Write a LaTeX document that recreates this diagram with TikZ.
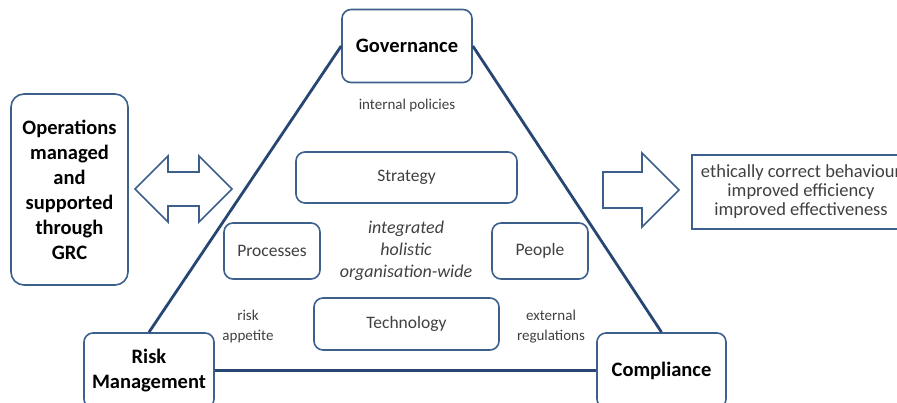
\documentclass[tikz,border=0pt]{standalone}
\usepackage{fontspec}
\setmainfont{Carlito}
\usetikzlibrary{positioning}

\definecolor{grcblue}{RGB}{60,95,140}
\definecolor{grcdark}{RGB}{40,70,115}
\definecolor{grctext}{RGB}{64,64,64}

\tikzset{
	pillar/.style={draw=grcblue, line width=1.6pt, rounded corners=9pt, fill=white, inner sep=0pt, align=center},
	corner/.style={pillar, font=\bfseries\fontsize{20.5}{25}\selectfont, text=black},
	element/.style={pillar, font=\fontsize{17.5}{21}\selectfont, text=grctext},
	note/.style={font=\fontsize{15}{20}\selectfont, text=grctext, align=center},
	blockarrow/.style={draw=grcblue, line width=1.6pt, fill=white, line join=miter},
	edge/.style={draw=grcdark, line width=2.8pt}
}

\begin{document}
\begin{tikzpicture}[x=1pt,y=-1pt]
\useasboundingbox (0,0) rectangle (897,403);
\clip (0,0) rectangle (897,403);

% corners of the triangle
\node[corner, minimum width=130pt, minimum height=73pt] (gov) at (407,46) {Governance};
\node[corner, minimum width=130pt, minimum height=75pt] (risk) at (149,370.5) {Risk\\Management};
\node[corner, minimum width=129pt, minimum height=75pt] (comp) at (661.5,370.5) {Compliance};

% triangle
\draw[edge] (gov.west) -- (risk.north);
\draw[edge] (gov.east) -- (comp.north);
\draw[edge] (risk.east) -- (comp.west);

% labels on the sides
\node[note] (policies) at (407,106) {internal policies};
\node[note] (appetite) at (248,327) {risk\\appetite};
\node[note] (regulations) at (551,327) {external\\regulations};

% elements inside
\node[element, minimum width=221pt, minimum height=51pt] (strategy) at (406.5,177.5) {Strategy};
\node[element, minimum width=96pt, minimum height=56pt] (processes) at (272,251) {Processes};
\node[element, minimum width=96pt, minimum height=56pt] (people) at (540,251) {People};
\node[element, minimum width=185pt, minimum height=52pt] (technology) at (406.5,324) {Technology};
\node[font=\itshape\fontsize{18}{22}\selectfont, text=grctext, align=center] (integrated) at (406,251) {integrated\\holistic\\organisation-wide};

% operations
\node[corner, minimum width=117pt, minimum height=191pt, rounded corners=13pt] (ops) at (69.5,189.5) {Operations\\managed\\and\\supported\\through\\GRC};
\draw[blockarrow] (135,189) -- (168,156) -- (168,172) -- (199,172) -- (199,156) -- (232,189)
	-- (199,222) -- (199,206) -- (168,206) -- (168,222) -- cycle;

% outcome
\draw[blockarrow] (603,172) -- (642,172) -- (642,153) -- (679,190) -- (642,227) -- (642,208) -- (603,208) -- cycle;
\draw[draw=grcblue, line width=1.6pt] (692,155) rectangle (915,229);
\node[font=\fontsize{18.5}{19}\selectfont, text=grctext, align=center] (outcome) at (801,192)
	{ethically correct behaviour\\improved efficiency\\improved effectiveness};

\end{tikzpicture}
\end{document}
